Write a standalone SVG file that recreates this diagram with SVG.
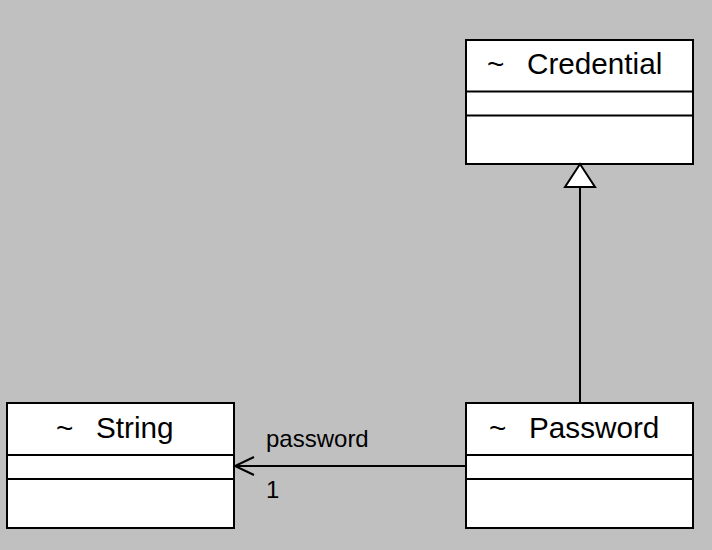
<svg xmlns="http://www.w3.org/2000/svg" width="712" height="550" viewBox="0 0 712 550">
<style>
.box{fill:#fff;stroke:#000;stroke-width:2}
.div{stroke:#000;stroke-width:2}
.t{font-family:"Liberation Sans",Arial,sans-serif;font-size:29.7px;fill:#000}
.l{font-family:"Liberation Sans",Arial,sans-serif;font-size:24px;fill:#000}
.c{stroke:#000;stroke-width:2;fill:none}
</style>
<rect width="712" height="550" fill="#c0c0c0"/>
<g id="Credential">
<rect class="box" x="466" y="40" width="227" height="124"/>
<line class="div" x1="466" y1="91.5" x2="693" y2="91.5"/>
<line class="div" x1="466" y1="115.5" x2="693" y2="115.5"/>
<text class="t" x="487" y="73.5">~</text>
<text class="t" x="527" y="73.5">Credential</text>
</g>
<g id="String">
<rect class="box" x="7" y="403" width="227" height="125"/>
<line class="div" x1="7" y1="455" x2="234" y2="455"/>
<line class="div" x1="7" y1="479" x2="234" y2="479"/>
<text class="t" x="56" y="437.5">~</text>
<text class="t" x="96" y="437.5">String</text>
</g>
<g id="Password">
<rect class="box" x="466" y="403" width="227" height="125"/>
<line class="div" x1="466" y1="455" x2="693" y2="455"/>
<line class="div" x1="466" y1="479" x2="693" y2="479"/>
<text class="t" x="489" y="437.5">~</text>
<text class="t" x="529" y="437.5">Password</text>
</g>
<g id="connectors">
<line class="c" x1="580" y1="403" x2="580" y2="187"/>
<polygon points="580,164 565,187 595,187" fill="#fff" stroke="#000" stroke-width="2"/>
<line class="c" x1="466" y1="466" x2="235" y2="466"/>
<polyline class="c" points="254,457 235,466 254,475"/>
<text class="l" x="266" y="447">password</text>
<text class="l" x="266" y="498">1</text>
</g>
</svg>
